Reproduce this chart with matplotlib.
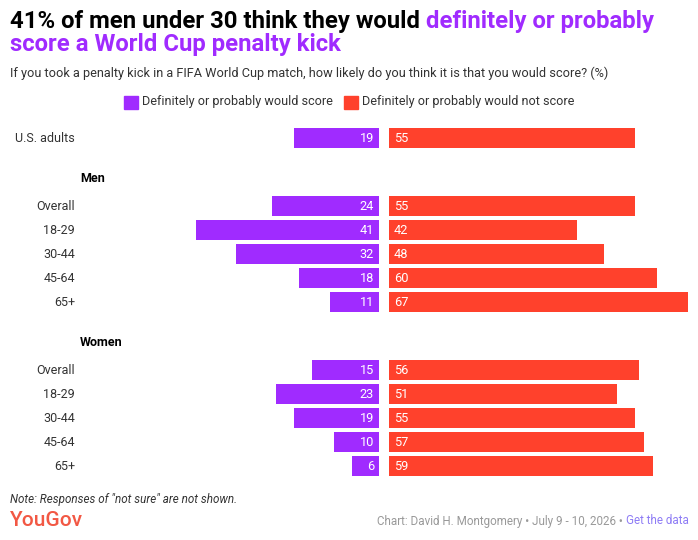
import matplotlib
matplotlib.use("Agg")
import matplotlib.pyplot as plt

# data
usa_label = "U.S. adults"
usa_score = 19
usa_not = 55

age_groups = ["Overall", "18-29", "30-44", "45-64", "65+"]
men_score = [24, 41, 32, 18, 11]
men_not = [55, 42, 48, 60, 67]
women_score = [15, 23, 19, 10, 6]
women_not = [56, 51, 55, 57, 59]

PURPLE = "#A02BFF"
RED = "#FF412C"
TXT = "#333333"
FONT = "Roboto"

W, H = 698, 540
PX = 4.47  # pixels per percentage point
MID_L, MID_R = 379, 389

fig = plt.figure(figsize=(W / 100, H / 100), dpi=100)
fig.patch.set_facecolor("white")


def fx(px):
    return px / W


def fy(py):
    return 1 - py / H


# left (purple) and right (red) axes, y in pixel units
axl = fig.add_axes([0, 0, fx(MID_L), 1])
axr = fig.add_axes([fx(MID_R), 0, 1 - fx(MID_R), 1])
axl.set_xlim(MID_L / PX, 0)
axr.set_xlim(0, (W - MID_R) / PX)
for a in (axl, axr):
    a.set_ylim(H, 0)
    a.axis("off")

# row layout
usa_y = 138
men_y = [206 + 24 * i for i in range(len(age_groups))]
women_y = [370 + 24 * i for i in range(len(age_groups))]

rows = [(usa_label, usa_score, usa_not, usa_y)]
rows += list(zip(age_groups, men_score, men_not, men_y))
rows += list(zip(age_groups, women_score, women_not, women_y))

for label, s, n, y in rows:
    axl.barh(y, s, height=20, color=PURPLE)
    axr.barh(y, n, height=20, color=RED)
    axl.text(5 / PX, y, str(s), ha="right", va="center", color="white",
             fontsize=9.2, family=FONT)
    axr.text(5 / PX, y, str(n), ha="left", va="center", color="white",
             fontsize=9.2, family=FONT)
    fig.text(fx(75), fy(y), label, ha="right", va="center", color=TXT,
             fontsize=9, family=FONT)

fig.text(fx(80), fy(178), "Men", ha="left", va="center", color="black",
         fontsize=9, family=FONT, fontweight="bold")
fig.text(fx(80), fy(343), "Women", ha="left", va="center", color="black",
         fontsize=9, family=FONT, fontweight="bold")

# title
t1 = fig.text(fx(10), fy(28), "41% of men under 30 think they would ", ha="left",
              va="baseline", color="black", fontsize=17.2, family=FONT, fontweight="bold")
plt.annotate("definitely or probably", xy=(1, 0), xycoords=t1, ha="left", va="bottom",
             color=PURPLE, fontsize=17.2, family=FONT, fontweight="bold")
fig.text(fx(10), fy(51), "score a World Cup penalty kick", ha="left", va="baseline",
         color=PURPLE, fontsize=17.2, family=FONT, fontweight="bold")

fig.text(fx(10), fy(73), "If you took a penalty kick in a FIFA World Cup match, how likely "
         "do you think it is that you would score? (%)", ha="left", va="center",
         color=TXT, fontsize=9.2, family=FONT)

# legend
fig.patches.append(plt.Rectangle((fx(124), fy(109)), fx(14), 13 / H, color=PURPLE,
                                 transform=fig.transFigure, figure=fig))
fig.text(fx(142), fy(102), "Definitely or probably would score", ha="left",
         va="center", color=TXT, fontsize=9.1, family=FONT)
fig.patches.append(plt.Rectangle((fx(344), fy(109)), fx(14), 13 / H, color=RED,
                                 transform=fig.transFigure, figure=fig))
fig.text(fx(362), fy(102), "Definitely or probably would not score", ha="left",
         va="center", color=TXT, fontsize=9.1, family=FONT)

# footer
fig.text(fx(10), fy(500), 'Note: Responses of "not sure" are not shown.', ha="left",
         va="center", color=TXT, fontsize=8.4, family=FONT, style="italic")
fig.text(fx(10), fy(521), "YouGov", ha="left", va="center", color="#F25844",
         fontsize=15, family=FONT, fontweight="medium")
g = fig.text(fx(689), fy(521), "Get the data", ha="right", va="center",
             color="#8E7CF5", fontsize=8.4, family=FONT)
plt.annotate("Chart: David H. Montgomery \u2022 July 9 - 10, 2026 \u2022 ", xy=(0, 0.5),
             xycoords=g, ha="right", va="center", color="#999999", fontsize=8.4,
             family=FONT)

fig.savefig("out.png", dpi=100, facecolor="white")
